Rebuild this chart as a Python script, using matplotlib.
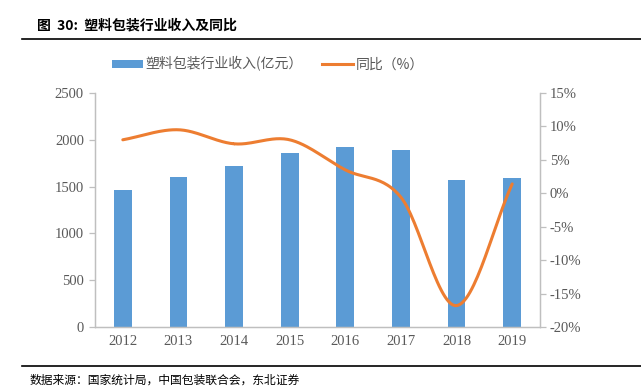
import numpy as np
import matplotlib.pyplot as plt
from matplotlib.lines import Line2D
from matplotlib.patches import Patch

plt.rcParams['font.family'] = ['Liberation Serif', 'Noto Sans CJK SC', 'DejaVu Sans']

# -------------------------
# Data
# -------------------------
years = ['2012', '2013', '2014', '2015', '2016', '2017', '2018', '2019']
revenue = [1464, 1603, 1717, 1855, 1920, 1891, 1574, 1595]   # 亿元
yoy = [8.0, 9.5, 7.4, 8.0, 3.5, -0.6, -16.8, 1.4]           # %

BLUE = '#5b9bd5'
ORANGE = '#ed7d31'
GREY = '#595959'
AXIS = '#bfbfbf'


def smooth(x, y, n=30):
    # Catmull-Rom spline, similar to Excel's smoothed line
    x = np.asarray(x, float)
    y = np.asarray(y, float)
    px = np.concatenate([[2 * x[0] - x[1]], x, [2 * x[-1] - x[-2]]])
    py = np.concatenate([[2 * y[0] - y[1]], y, [2 * y[-1] - y[-2]]])
    xs, ys = [], []
    t = np.linspace(0, 1, n)
    for i in range(1, len(px) - 2):
        for p, out in ((px, xs), (py, ys)):
            p0, p1, p2, p3 = p[i - 1], p[i], p[i + 1], p[i + 2]
            out.extend(0.5 * (2 * p1 + (-p0 + p2) * t
                              + (2 * p0 - 5 * p1 + 4 * p2 - p3) * t ** 2
                              + (-p0 + 3 * p1 - 3 * p2 + p3) * t ** 3))
    return np.array(xs), np.array(ys)


fig = plt.figure(figsize=(6.41, 3.91), dpi=100)
ax = fig.add_axes([95 / 641, 1 - 327 / 391, 445 / 641, 234 / 391])
ax2 = ax.twinx()

x = np.arange(len(years))
ax.bar(x, revenue, width=0.32, color=BLUE, zorder=2)
sx, sy = smooth(x, yoy)
ax2.plot(sx, sy, color=ORANGE, lw=2.2, solid_capstyle='round')

ax.set_xlim(-0.5, len(years) - 0.5)
ax.set_ylim(0, 2500)
ax.set_yticks(range(0, 2501, 500))
ax2.set_ylim(-20, 15)
ax2.set_yticks(range(-20, 16, 5))
ax2.set_yticklabels([f'{v}%' for v in range(-20, 16, 5)])
ax.set_xticks(x)
ax.set_xticklabels(years)

for a in (ax, ax2):
    a.spines['top'].set_visible(False)
    for s in ('left', 'right', 'bottom'):
        a.spines[s].set_color(AXIS)
        a.spines[s].set_linewidth(0.9)
    a.tick_params(colors=GREY, labelsize=10.5, length=4, width=0.9)
    a.tick_params(axis='y', color=AXIS)
ax.tick_params(axis='x', length=0, pad=6)
ax.tick_params(axis='y', pad=4)
ax2.tick_params(axis='y', direction='out', pad=3)

# legend
handles = [Patch(facecolor=BLUE), Line2D([], [], color=ORANGE, lw=2.2)]
labels = ['塑料包装行业收入(亿元）', '同比（%）']
leg = fig.legend(handles, labels, loc='center', bbox_to_anchor=(268 / 641, 1 - 64 / 391),
                 ncol=2, frameon=False, handlelength=2.2,
                 handleheight=0.5, columnspacing=1.4, handletextpad=0.2,
                 prop={'family': ['Noto Sans CJK SC'], 'size': 10})
for t in leg.get_texts():
    t.set_color(GREY)

# title and source
fig.text(37 / 641, 1 - 25 / 391, '图  30:  塑料包装行业收入及同比', fontsize=10,
         fontweight='bold', va='center', ha='left',
         family=['Noto Sans CJK SC', 'DejaVu Sans'])
fig.add_artist(Line2D([22 / 641, 1], [1 - 39 / 391] * 2, color='black', lw=1.2))
fig.add_artist(Line2D([22 / 641, 1], [1 - 366 / 391] * 2, color='black', lw=1.2))
fig.text(30 / 641, 1 - 380 / 391, '数据来源：国家统计局，中国包装联合会，东北证券', fontsize=8.5,
         va='center', ha='left', family=['Noto Sans CJK SC', 'DejaVu Sans'])

fig.savefig('out.png', dpi=100)
